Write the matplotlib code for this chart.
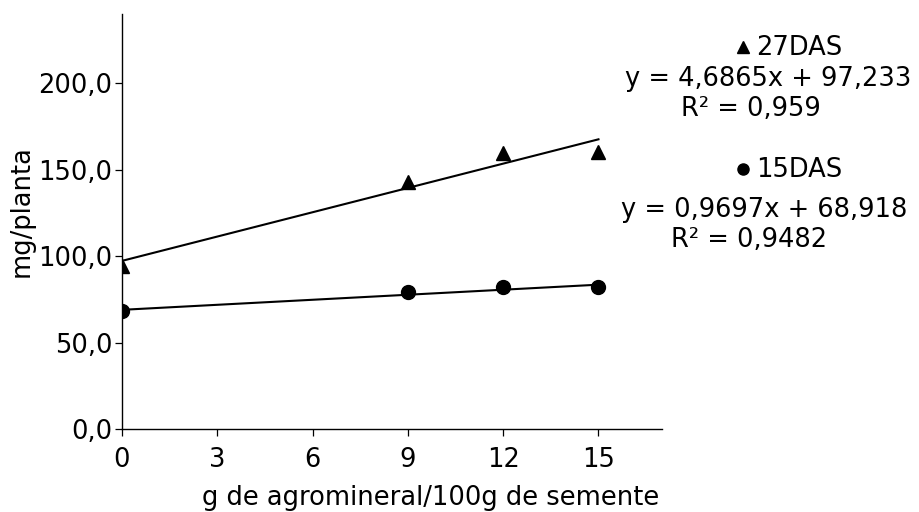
import matplotlib
matplotlib.use("Agg")
import matplotlib.pyplot as plt
from matplotlib.lines import Line2D
import numpy as np

# dose (g agromineral / 100 g seed)
doses = [0, 9, 12, 15]
das27 = [94.0, 143.0, 159.5, 160.0]
das15 = [68.5, 79.0, 82.0, 82.0]

# fitted lines shown on the chart
fit27 = (4.6865, 97.233)
fit15 = (0.9697, 68.918)

xticks = [0, 3, 6, 9, 12, 15]
yticks = [0, 50, 100, 150, 200]
ytick_labels = ["0,0", "50,0", "100,0", "150,0", "200,0"]

FS = 18.5

fig = plt.figure(figsize=(9.19, 5.12), dpi=100)
ax = fig.add_axes([122 / 919, 1 - 429 / 512, 540 / 919, 415 / 512])

xfit = np.array([doses[0], doses[-1]])
ax.plot(xfit, fit27[0] * xfit + fit27[1], color="black", lw=1.5, zorder=2)
ax.plot(xfit, fit15[0] * xfit + fit15[1], color="black", lw=1.5, zorder=2)
ax.plot(doses, das27, linestyle="none", marker="^", ms=10, color="black", zorder=3)
ax.plot(doses, das15, linestyle="none", marker="o", ms=10, color="black", zorder=3)

ax.set_xlim(0, 17)
ax.set_ylim(0, 240)
ax.set_xticks(xticks)
ax.set_xticklabels([str(t) for t in xticks])
ax.set_yticks(yticks)
ax.set_yticklabels(ytick_labels)

for s in ["top", "right"]:
    ax.spines[s].set_visible(False)
for s in ["left", "bottom"]:
    ax.spines[s].set_linewidth(1.0)

ax.tick_params(axis="both", direction="out", length=5, width=0.9, labelsize=FS)
ax.tick_params(axis="x", pad=8)
ax.tick_params(axis="y", pad=2)

ax.set_xlabel("g de agromineral/100g de semente", fontsize=FS)
ax.xaxis.set_label_coords(0.572, -0.135)


def fx(px):
    return px / 919


def fy(py):
    return 1 - py / 512


fig.text(fx(22), fy(211), "mg/planta", fontsize=FS, rotation=90,
         ha="center", va="center")

# equation labels on the right
fig.add_artist(Line2D([fx(743)], [fy(47)], marker="^", ms=9, color="black",
                      linestyle="none", transform=fig.transFigure))
fig.text(fx(756), fy(48), "27DAS", fontsize=FS, va="center", ha="left")
fig.text(fx(768), fy(79), "y = 4,6865x + 97,233", fontsize=FS, va="center", ha="center")
fig.text(fx(751), fy(109), "R² = 0,959", fontsize=FS, va="center", ha="center")

fig.add_artist(Line2D([fx(743)], [fy(169)], marker="o", ms=8, color="black",
                      linestyle="none", transform=fig.transFigure))
fig.text(fx(756), fy(170), "15DAS", fontsize=FS, va="center", ha="left")
fig.text(fx(764), fy(210), "y = 0,9697x + 68,918", fontsize=FS, va="center", ha="center")
fig.text(fx(749), fy(240), "R² = 0,9482", fontsize=FS, va="center", ha="center")

fig.savefig("out.png", dpi=100)
